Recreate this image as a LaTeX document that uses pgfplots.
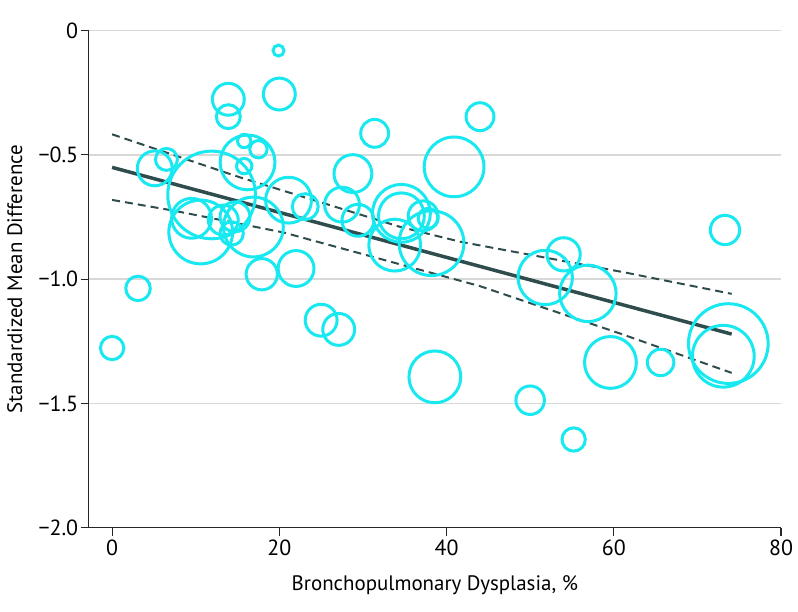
\documentclass[border=0pt]{standalone}
\usepackage{fontspec}
\setmainfont{PT Sans}
\usepackage{pgfplots}
\pgfplotsset{compat=1.18}
\usepackage{pgfplotstable}

\definecolor{bub}{RGB}{24,232,240}
\definecolor{fitc}{RGB}{47,77,77}
\definecolor{gridc}{RGB}{216,216,216}

% study bubbles: BPD %, SMD, radius (px)
\pgfplotstableread{
x     y       r
0.0   -1.277  11.7
3.1   -1.037  12.3
5.1   -0.554  17.5
6.5   -0.518  11.0
11.9  -0.661  44.0
9.5   -0.755  20.0
10.6  -0.810  32.0
13.3  -0.762  15.0
14.7  -0.749  15.0
14.3  -0.816  11.7
13.9  -0.276  16.0
13.9  -0.346  12.0
16.2  -0.530  27.5
15.8  -0.444  6.7
17.5  -0.477  8.7
15.8  -0.545  7.7
16.9  -0.790  30.0
17.9  -0.980  15.7
19.9  -0.080  5.5
20.0  -0.255  16.0
21.1  -0.682  23.0
23.1  -0.708  13.0
22.0  -0.957  18.0
25.0  -1.165  16.0
27.1  -1.202  16.0
27.5  -0.700  17.5
29.4  -0.763  16.0
28.8  -0.575  19.0
31.4  -0.413  14.0
34.6  -0.735  29.0
34.6  -0.745  23.0
33.8  -0.863  26.0
37.2  -0.745  15.0
37.8  -0.755  10.0
38.2  -0.855  32.5
38.6  -1.393  26.0
40.9  -0.548  30.0
44.0  -0.346  14.0
50.0  -1.487  14.3
51.8  -0.993  27.3
54.0  -0.900  16.7
55.2  -1.645  11.7
56.9  -1.057  28.3
59.6  -1.335  26.0
65.6  -1.335  13.3
73.1  -1.310  31.0
73.7  -1.259  40.0
73.3  -0.802  14.7
}\bubbles

\begin{document}
\begin{tikzpicture}
\begin{axis}[
  scale only axis, width=692.3bp, height=497bp,
  xmin=-2.8, xmax=80, ymin=-2, ymax=0,
  axis x line*=bottom, axis y line*=left,
  axis line style={line width=1.1bp, black!85},
  xtick={0,20,40,60,80},
  ytick={-2,-1.5,-1,-0.5,0},
  yticklabels={−2.0,−1.5,−1.0,−0.5,0},
  tick align=outside, major tick length=8bp,
  tick style={line width=1.1bp, black!85},
  ymajorgrids, grid style={gridc, line width=1.5bp},
  /pgf/number format/assume math mode=true,
  xticklabel style={font=\fontsize{22}{26}\selectfont, yshift=-1bp},
  yticklabel style={font=\fontsize{22}{26}\selectfont, xshift=1bp},
  label style={font=\fontsize{21}{25}\selectfont},
  xlabel={Bronchopulmonary Dysplasia, \%},
  ylabel={Standardized Mean Difference},
  xlabel style={at={(axis description cs:0.5,-0.1254)}, anchor=base},
  ylabel style={at={(axis description cs:-0.0963,0.5)}, anchor=base},
]
\addplot[scatter, only marks, mark=o, line width=3bp,
  scatter/use mapped color={draw=bub},
  visualization depends on={\thisrow{r}\as\rad},
  scatter/@pre marker code/.append style={/tikz/mark size=\rad}]
  table[x=x,y=y] {\bubbles};

% meta-regression line and its 95% band
\addplot[fitc, line width=3.5bp] coordinates {(0,-0.55) (74.1,-1.221)};
\addplot[fitc, line width=2bp, dash pattern=on 8bp off 5bp] coordinates {
  (0,-0.417) (15.1,-0.588) (34.4,-0.789) (41.6,-0.849) (61.5,-0.974) (74.1,-1.059)};
\addplot[fitc, line width=2bp, dash pattern=on 8bp off 5bp] coordinates {
  (0,-0.681) (7.5,-0.725) (20.5,-0.812) (44.0,-1.028) (60.7,-1.218) (74.1,-1.377)};
\end{axis}
\path[use as bounding box] (-88.7bp,-84.3bp) rectangle (709.3bp,527.7bp);
\end{tikzpicture}
\end{document}
